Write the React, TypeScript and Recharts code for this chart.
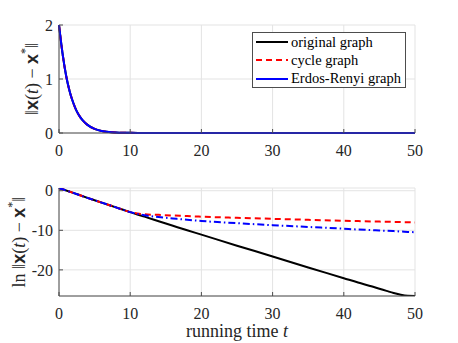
import React from 'react';
import { LineChart, Line, XAxis, YAxis, CartesianGrid, Legend } from 'recharts';

// ---- data ----
const seriesNames = ['original graph', 'cycle graph', 'Erdos-Renyi graph'];
const xTicks = [0, 10, 20, 30, 40, 50];
const topYTicks = [0, 1, 2];
const bottomYTicks = [-20, -10, 0];

// top panel: ||x(t) - x*||
const topT = [0, 0.5, 1, 1.5, 2, 2.5, 3, 3.5, 4, 5, 6, 7, 8, 9, 10, 12, 15, 20, 30, 40, 50];
const topOriginal = [2.0, 1.47, 1.06, 0.77, 0.56, 0.4, 0.29, 0.21, 0.15, 0.075, 0.038, 0.019, 0.01, 0.005, 0.0026, 0.0008, 0.0002, 0.00003, 0, 0, 0];
const topCycle = [2.0, 1.47, 1.06, 0.77, 0.56, 0.4, 0.29, 0.21, 0.15, 0.075, 0.038, 0.019, 0.01, 0.005, 0.0027, 0.0012, 0.0008, 0.0005, 0.0003, 0.0002, 0.0002];
const topErdos = [2.0, 1.47, 1.06, 0.77, 0.56, 0.4, 0.29, 0.21, 0.15, 0.075, 0.038, 0.019, 0.01, 0.005, 0.0026, 0.0009, 0.0005, 0.0003, 0.0002, 0.0001, 0.00003];

// bottom panel: ln ||x(t) - x*||
const lnT = [0, 2, 4, 6, 8, 10, 11, 12, 14, 16, 18, 20, 25, 30, 35, 40, 42, 44, 45, 46, 47, 48, 49, 50];
const lnOriginal = [0.69, -0.55, -1.8, -3.0, -4.2, -5.4, -6.0, -6.55, -7.7, -8.85, -10.0, -11.1, -13.9, -16.6, -19.4, -22.1, -23.2, -24.2, -24.75, -25.3, -25.85, -26.3, -26.55, -26.6];
const lnCycle = [0.69, -0.55, -1.8, -3.0, -4.2, -5.4, -5.75, -5.95, -6.1, -6.25, -6.4, -6.55, -6.85, -7.1, -7.35, -7.6, -7.68, -7.76, -7.8, -7.84, -7.88, -7.92, -7.96, -8.0];
const lnErdos = [0.69, -0.55, -1.8, -3.0, -4.2, -5.4, -5.85, -6.2, -6.65, -7.0, -7.35, -7.65, -8.2, -8.7, -9.15, -9.6, -9.8, -9.95, -10.05, -10.12, -10.2, -10.3, -10.4, -10.5];

const topData = topT.map((t, i) => ({ t, a: topOriginal[i], b: topCycle[i], c: topErdos[i] }));
const lnData = lnT.map((t, i) => ({ t, a: lnOriginal[i], b: lnCycle[i], c: lnErdos[i] }));

const FONT = '"Liberation Serif", "Times New Roman", serif';
const AXIS = '#4d4d4d';
const GRID = '#e3e3e3';

const XTick = (props: any) => (
  <text x={props.x} y={props.y} dy="0.71em" textAnchor="middle" fontFamily={FONT} fontSize={16} fill="#262626">
    {props.payload.value}
  </text>
);
const YTick = (props: any) => (
  <text x={props.x} y={props.y} dy="0.355em" textAnchor="end" fontFamily={FONT} fontSize={16} fill="#262626">
    {props.payload.value}
  </text>
);

const YLabel = ({ cx, cy, withLn }: { cx: number; cy: number; withLn?: boolean }) => (
  <text
    x={cx}
    y={cy}
    transform={`rotate(-90 ${cx} ${cy})`}
    textAnchor="middle"
    dominantBaseline="central"
    fontFamily={FONT}
    fontSize={18}
    fill="#262626"
  >
    {withLn ? <tspan>ln </tspan> : null}
    <tspan>‖</tspan>
    <tspan fontFamily='"Liberation Sans", sans-serif' fontWeight="bold">x</tspan>
    <tspan>(</tspan>
    <tspan fontStyle="italic">t</tspan>
    <tspan>) − </tspan>
    <tspan fontFamily='"Liberation Sans", sans-serif' fontWeight="bold">x</tspan>
    <tspan dy={-7} fontSize={12}>*</tspan>
    <tspan dy={7}>‖</tspan>
  </text>
);

const LegendBox = () => (
  <div
    style={{
      width: 154,
      height: 56,
      border: '1px solid #4d4d4d',
      background: '#fff',
      fontFamily: FONT,
      fontSize: 14.5,
      color: '#000',
      boxSizing: 'border-box',
      padding: '0 0 0 3px',
    }}
  >
    {seriesNames.map((name, i) => (
      <div key={name} style={{ display: 'flex', alignItems: 'center', height: 18.3, whiteSpace: 'nowrap' }}>
        <svg width={33} height={10} style={{ marginRight: 2 }}>
          <line
            x1={0}
            y1={5}
            x2={32}
            y2={5}
            stroke={i === 0 ? '#000' : i === 1 ? '#ff0000' : '#0000ff'}
            strokeWidth={2}
            strokeDasharray={i === 1 ? '6 4' : undefined}
          />
        </svg>
        <span>{name}</span>
      </div>
    ))}
  </div>
);

export default function App() {
  return (
    <div style={{ position: 'absolute', left: 0, top: 0, width: 458, height: 343, background: '#fff' }}>
      <div style={{ position: 'absolute', left: 0, top: 0 }}>
        <LineChart width={458} height={160} data={topData} margin={{ top: 25, right: 43, bottom: 0, left: 0 }}>
          <CartesianGrid stroke={GRID} />
          <XAxis
            dataKey="t"
            type="number"
            domain={[0, 50]}
            ticks={xTicks}
            height={27}
            stroke={AXIS}
            tickSize={-4}
            tickMargin={16}
            tick={XTick}
          />
          <XAxis xAxisId="top" orientation="top" dataKey="t" type="number" domain={[0, 50]} ticks={xTicks} height={0} stroke={AXIS} tickSize={-4} tick={false} />
          <YAxis
            type="number"
            domain={[0, 2]}
            ticks={topYTicks}
            width={59}
            stroke={AXIS}
            tickSize={-4}
            tickMargin={10}
            tick={YTick}
            label={{ content: () => <YLabel cx={32} cy={79} /> }}
          />
          <YAxis yAxisId="right" orientation="right" type="number" domain={[0, 2]} ticks={topYTicks} width={0} stroke={AXIS} tickSize={-4} tick={false} />
          <Line dataKey="a" type="monotone" stroke="#000" strokeWidth={2} dot={false} isAnimationActive={false} />
          <Line dataKey="b" type="monotone" stroke="#ff0000" strokeWidth={2} strokeDasharray="6 4" dot={false} isAnimationActive={false} />
          <Line dataKey="c" type="monotone" stroke="#0000ff" strokeWidth={2} dot={false} isAnimationActive={false} />
          <Legend
            layout="horizontal"
            verticalAlign="middle"
            align="center"
            wrapperStyle={{ left: 252, top: 32, width: 154, height: 56 }}
            content={() => <LegendBox />}
          />
        </LineChart>
      </div>
      <div style={{ position: 'absolute', left: 0, top: 160 }}>
        <LineChart width={458} height={183} data={lnData} margin={{ top: 28, right: 43, bottom: 0, left: 0 }}>
          <CartesianGrid stroke={GRID} />
          <XAxis
            dataKey="t"
            type="number"
            domain={[0, 50]}
            ticks={xTicks}
            height={47}
            stroke={AXIS}
            tickSize={-4}
            tickMargin={16}
            tick={XTick}
            label={{
              content: () => (
                <text x={237} y={177} textAnchor="middle" fontFamily={FONT} fontSize={18} fill="#262626">
                  running time <tspan fontStyle="italic">t</tspan>
                </text>
              ),
            }}
          />
          <XAxis xAxisId="top" orientation="top" dataKey="t" type="number" domain={[0, 50]} ticks={xTicks} height={0} stroke={AXIS} tickSize={-4} tick={false} />
          <YAxis
            type="number"
            domain={[-26.6, 0.69]}
            ticks={bottomYTicks}
            width={59}
            stroke={AXIS}
            tickSize={-4}
            tickMargin={10}
            tick={YTick}
            allowDataOverflow
            label={{ content: () => <YLabel cx={19} cy={82} withLn /> }}
          />
          <YAxis yAxisId="right" orientation="right" type="number" domain={[-26.6, 0.69]} ticks={bottomYTicks} width={0} stroke={AXIS} tickSize={-4} tick={false} allowDataOverflow />
          <Line dataKey="a" type="monotone" stroke="#000" strokeWidth={2} dot={false} isAnimationActive={false} />
          <Line dataKey="b" type="monotone" stroke="#ff0000" strokeWidth={2} strokeDasharray="6 4" dot={false} isAnimationActive={false} />
          <Line dataKey="c" type="monotone" stroke="#0000ff" strokeWidth={2} strokeDasharray="7 3 1.5 3" dot={false} isAnimationActive={false} />
        </LineChart>
      </div>
    </div>
  );
}
